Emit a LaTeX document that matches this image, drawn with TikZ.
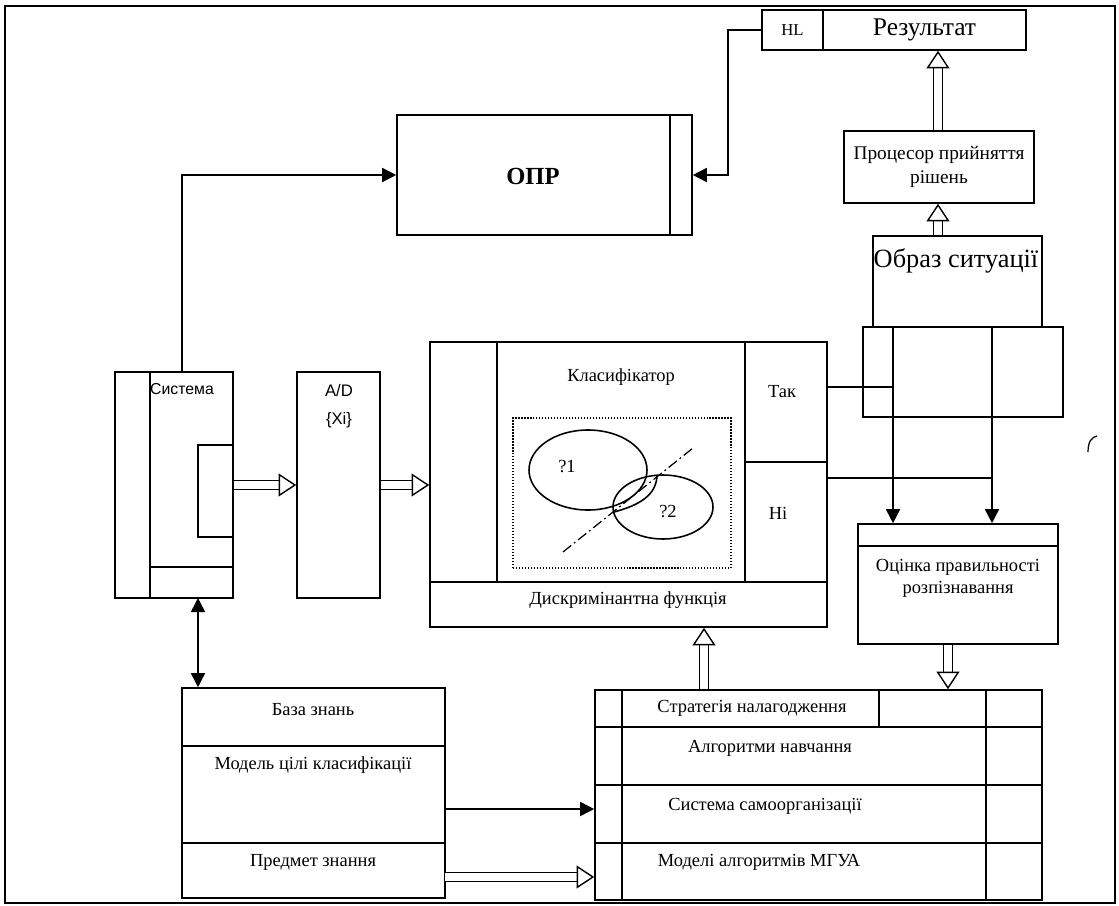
\documentclass[tikz,border=0pt]{standalone}
\usepackage{fontspec}
\setmainfont{Liberation Serif}
\setsansfont{Liberation Sans}
\usetikzlibrary{arrows.meta,fit,calc}

\tikzset{
  box/.style={draw, rectangle, inner sep=0pt},
  txt/.style={font=\fontsize{10.5}{12.5}\selectfont, inner sep=1pt, align=center},
  bigtxt/.style={font=\fontsize{15}{17}\selectfont, inner sep=1pt},
  sanstxt/.style={font=\sffamily\fontsize{9}{11}\selectfont, inner sep=1pt},
  fillarrow/.style={-{Triangle[length=8pt,width=8pt]}},
  hollowarrow/.style={double, double distance=4pt, line width=0.8pt,
    -{Triangle[open,length=10pt,width=13pt]}}
}

\begin{document}
\begin{tikzpicture}[x=0.02cm, y=-0.02cm, line width=0.9pt]
  \useasboundingbox (0,0) rectangle (1119,906);

  % Outer frame
  \node[box, fit={(5,6) (1115,903)}] (frame) {};

  % Result block
  \node[box, fit={(762,10) (823,50)}] (hl) {};
  \node[box, fit={(823,10) (1026,50)}] (res) {};
  \node[txt, font=\fontsize{9.5}{11}\selectfont] (hltext) at (hl) {HL};
  \node[bigtxt, font=\fontsize{14.5}{16}\selectfont] (restext) at (res) {Результат};

  % Decision maker
  \node[box, fit={(397,115) (692,235)}] (opr) {};
  \draw (670,115) -- (670,235);
  \node[txt, font=\fontsize{14}{16}\selectfont\bfseries] (oprtext) at (533,176) {ОПР};

  % Decision processor
  \node[box, fit={(844,131) (1034,203)}] (proc) {};
  \node[txt, font=\fontsize{11}{13.5}\selectfont] (proctext) at (proc) {Процесор прийняття\\рішень};

  % Situation image
  \node[box, fit={(873,236) (1042,327)}] (obraz) {};
  \node[bigtxt] (obraztext) at (956,261) {Образ ситуації};
  \node[box, fit={(863,327) (1063,417)}] (obrazlow) {};
  \coordinate (tapyes) at (893,327);
  \coordinate (tapno) at (992,327);

  % System
  \node[box, fit={(115,372) (233,598)}] (sys) {};
  \draw (150,372) -- (150,598);
  \draw (150,567) -- (233,567);
  \node[box, fit={(198,445) (233,537)}] (sysport) {};
  \node[sanstxt] (systext) at (182,389) {Система};
  \coordinate (sysup) at (182,372);
  \coordinate (sysdown) at (198,598);

  % A/D converter
  \node[box, fit={(297,372) (380,598)}] (ad) {};
  \node[sanstxt, font=\sffamily\fontsize{9.5}{11}\selectfont] (adtext) at (339,391) {A/D};
  \node[sanstxt, font=\sffamily\fontsize{9.5}{11}\selectfont] (xitext) at (339,420) {\{Xi\}};

  % Classifier
  \node[box, fit={(430,342) (827,627)}] (klas) {};
  \draw (497,342) -- (497,582);
  \draw (745,342) -- (745,582);
  \draw (430,582) -- (827,582);
  \draw (745,462) -- (827,462);
  \node[txt] (klastext) at (621,377) {Класифікатор};
  \node[txt] (yestext) at (782,392) {Так};
  \node[txt] (notext) at (778,513) {Ні};
  \node[txt] (disctext) at (628,600) {Дискримінантна функція};
  \coordinate (yesout) at (827,387);
  \coordinate (noout) at (827,478);

  % Feature space
  \node[box, densely dotted, line width=0.7pt, fit={(513,418) (731,568)}] (space) {};
  \draw (588,470) ellipse [x radius=59, y radius=40];
  \draw (663,507) ellipse [x radius=50, y radius=32];
  \draw (657,476) .. controls (656,495) and (640,505) .. (614,512);
  \draw[dash pattern=on 6pt off 2pt on 1pt off 2pt, line width=0.7pt] (563,552) -- (693,448);
  \node[txt] (c1text) at (567,467) {?1};
  \node[txt] (c2text) at (668,512) {?2};

  % Recognition estimate
  \node[box, fit={(858,524) (1058,644)}] (oc) {};
  \draw (858,546) -- (1058,546);
  \node[txt] (octext) at (958,578) {Оцінка правильності\\розпізнавання};

  % Knowledge base
  \node[box, fit={(182,688) (445,898)}] (baza) {};
  \draw (182,746) -- (445,746);
  \draw (182,843) -- (445,843);
  \node[txt] (bazatext) at (313,710) {База знань};
  \node[txt] (goaltext) at (313,765) {Модель цілі класифікації};
  \node[txt] (subjtext) at (313,862) {Предмет знання};
  \coordinate (kbout) at (445,809);
  \coordinate (subjout) at (445,877);

  % Learning algorithms
  \node[box, fit={(595,690) (1042,900)}] (algo) {};
  \draw (622,690) -- (622,900);
  \draw (986,690) -- (986,900);
  \draw (879,690) -- (879,727);
  \draw (595,727) -- (1042,727);
  \draw (595,785) -- (1042,785);
  \draw (595,843) -- (1042,843);
  \node[txt] (strattext) at (752,708) {Стратегія налагодження};
  \node[txt] (learntext) at (770,748) {Алгоритми навчання};
  \node[txt] (selftext) at (765,806) {Система самоорганізації};
  \node[txt] (gmdhtext) at (759,862) {Моделі алгоритмів МГУА};

  % Connectors
  \draw[fillarrow] (sysup) |- (opr.west);
  \draw[fillarrow] (hl.west) -- ++(-33,0) |- (opr.east);
  \draw[hollowarrow] (proc.north -| 938,0) -- (res.south -| 938,0);
  \draw[hollowarrow] (obraz.north -| 938,0) -- (proc.south -| 938,0);
  \draw[hollowarrow] (sysport.east |- ad.east) -- (ad.east -| ad.west);
  \draw[hollowarrow] (ad.east) -- (klas.west |- ad.east);
  \draw (yesout) -- (yesout -| tapyes);
  \draw (noout) -- (noout -| tapno);
  \draw[fillarrow] (tapyes) -- (oc.north -| tapyes);
  \draw[fillarrow] (tapno) -- (oc.north -| tapno);
  \draw[hollowarrow] (oc.south -| 948,0) -- (algo.north -| 948,0);
  \draw[hollowarrow] (algo.north -| 704,0) -- (klas.south -| 704,0);
  \draw[{Triangle[length=8pt,width=8pt]}-{Triangle[length=8pt,width=8pt]}] (sysdown) -- (baza.north -| sysdown);
  \draw[fillarrow] (kbout) -- (kbout -| algo.west);
  \draw[hollowarrow] (subjout) -- (subjout -| algo.west);

  % Scan mark
  \draw[line width=0.7pt] (1088,452) .. controls (1088,441) and (1092,437) .. (1097,436);
\end{tikzpicture}
\end{document}
